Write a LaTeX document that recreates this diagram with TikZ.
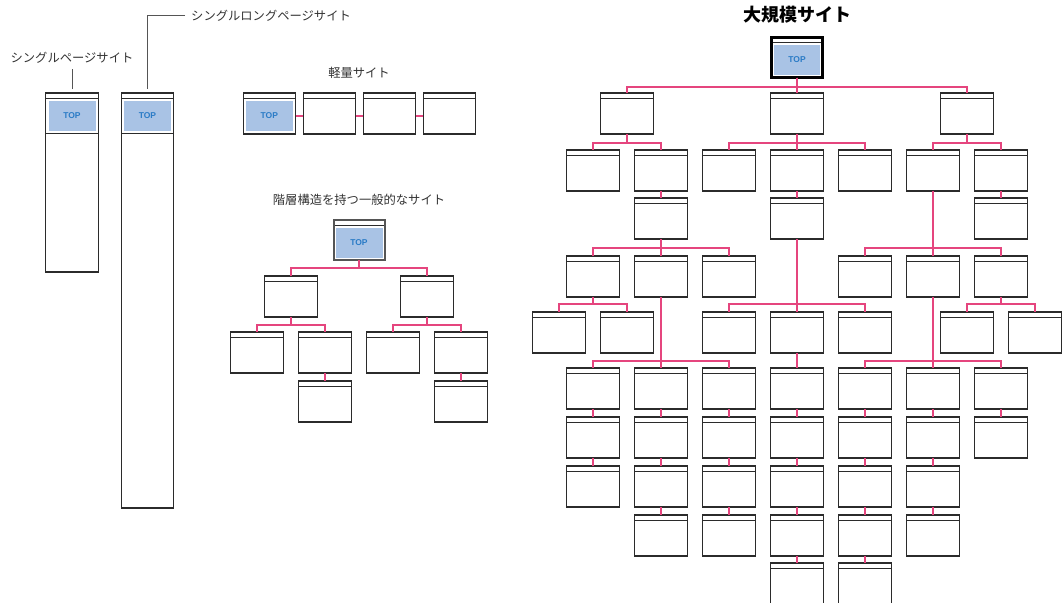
\documentclass[tikz,border=0pt]{standalone}
\usepackage{fontspec}
\setmainfont{Liberation Sans}
\newfontfamily\jpfont{Noto Sans CJK JP}
\definecolor{boxc}{HTML}{2B2B2B}
\definecolor{pinkc}{HTML}{E5457E}
\definecolor{topblue}{HTML}{A9C3E5}
\definecolor{toptext}{HTML}{2A7BC6}
\definecolor{labc}{HTML}{333333}
\definecolor{leadc}{HTML}{555555}
\newcommand\lb[3]{\node[pg] (#1) at ({797+34*(#2)},#3) {};}
\tikzset{
  pg/.style={draw=boxc, line width=1.1pt, fill=white, minimum width=52.5pt,
    minimum height=41pt, inner sep=0pt, outer sep=0pt, anchor=north,
    path picture={\draw[boxc, line width=1pt]
      ([yshift=-5pt]path picture bounding box.north west) --
      ([yshift=-5pt]path picture bounding box.north east);}},
  topfill/.style={fill=topblue, inner sep=0pt, outer sep=0pt, anchor=north,
    minimum width=47pt, minimum height=30pt, text=toptext,
    font=\bfseries\fontsize{8.5}{10}\selectfont},
  lnk/.style={draw=pinkc, line width=1.1pt},
  leader/.style={draw=leadc, line width=1pt},
  lab/.style={text=labc, inner sep=0pt, font=\jpfont\fontsize{12.3}{14}\selectfont},
}
\begin{document}
\begin{tikzpicture}[x=1pt,y=-1pt]
\useasboundingbox (0,0) rectangle (1062,602);

% ---------- single page site ----------
\node[lab] (lab1) at (72,58) {シングルページサイト};
\node[pg, minimum height=179pt] (single) at (72,93) {};
\draw[boxc, line width=1pt] ([yshift=-40.5pt]single.north west) -- ([yshift=-40.5pt]single.north east);
\node[topfill] (singleT) at ([yshift=-8pt]single.north) {TOP};
\draw[leader] ([yshift=4pt]single.north) -- ([yshift=-5pt]single.north |- lab1.south);

% ---------- single long page site ----------
\node[lab, anchor=west] (lab2) at (191,16) {シングルロングページサイト};
\node[pg, minimum height=415pt] (long) at (147.5,93) {};
\draw[boxc, line width=1pt] ([yshift=-40.5pt]long.north west) -- ([yshift=-40.5pt]long.north east);
\node[topfill] (longT) at ([yshift=-8pt]long.north) {TOP};
\draw[leader] ([xshift=-6pt]lab2.west) -| ([yshift=4pt]long.north);

% ---------- light site ----------
\node[lab] (lab3) at (359,73) {軽量サイト};
\node[pg] (l1) at (269.3,93) {};
\node[pg] (l2) at (329.3,93) {};
\node[pg] (l3) at (389.3,93) {};
\node[pg] (l4) at (449.3,93) {};
\node[topfill] (l1T) at ([yshift=-8pt]l1.north) {TOP};
\draw[lnk] (l1.east |- l1T) -- (l2.west |- l1T);
\draw[lnk] (l2.east |- l1T) -- (l3.west |- l1T);
\draw[lnk] (l3.east |- l1T) -- (l4.west |- l1T);

% ---------- hierarchical site ----------
\node[lab] (lab4) at (359,200) {階層構造を持つ一般的なサイト};
\node[pg, draw=leadc, line width=2pt, minimum width=51pt, minimum height=40pt] (h0) at (359,220) {};
\node[topfill] (h0T) at ([yshift=-8pt]h0.north) {TOP};
\node[pg] (h1) at (291,276) {};
\node[pg] (h2) at (427,276) {};
\node[pg] (h11) at (257,332) {};
\node[pg] (h12) at (325,332) {};
\node[pg] (h21) at (393,332) {};
\node[pg] (h22) at (461,332) {};
\node[pg] (h121) at (325,381) {};
\node[pg] (h221) at (461,381) {};
\foreach \c in {h1,h2} \draw[lnk] (h0.south) -- ++(0,8) -| (\c.north);
\foreach \c in {h11,h12} \draw[lnk] (h1.south) -- ++(0,8) -| (\c.north);
\foreach \c in {h21,h22} \draw[lnk] (h2.south) -- ++(0,8) -| (\c.north);
\draw[lnk] (h12.south) -- (h121.north);
\draw[lnk] (h22.south) -- (h221.north);

% ---------- large site ----------
\node[text=black, inner sep=0pt, font=\jpfont\bfseries\fontsize{18}{20}\selectfont] (lab5) at (797,15) {大規模サイト};
\node[pg, draw=black, line width=3pt, minimum width=50.5pt, minimum height=40pt] (T) at (797,37.5) {};
\node[topfill, minimum width=46.7pt] (TT) at ([yshift=-7.5pt]T.north) {TOP};

\lb{Bm5}{-5}{93} \lb{B0}{0}{93} \lb{Bp5}{5}{93}
\lb{Cm6}{-6}{150} \lb{Cm4}{-4}{150} \lb{Cm2}{-2}{150} \lb{C0}{0}{150}
\lb{Cp2}{2}{150} \lb{Cp4}{4}{150} \lb{Cp6}{6}{150}
\lb{Dm4}{-4}{198} \lb{D0}{0}{198} \lb{Dp6}{6}{198}
\lb{Em6}{-6}{256} \lb{Em4}{-4}{256} \lb{Em2}{-2}{256}
\lb{Ep2}{2}{256} \lb{Ep4}{4}{256} \lb{Ep6}{6}{256}
\lb{Fm7}{-7}{312} \lb{Fm5}{-5}{312} \lb{Fm2}{-2}{312} \lb{F0}{0}{312}
\lb{Fp2}{2}{312} \lb{Fp5}{5}{312} \lb{Fp7}{7}{312}
\lb{Gm6}{-6}{368} \lb{Gm4}{-4}{368} \lb{Gm2}{-2}{368} \lb{G0}{0}{368}
\lb{Gp2}{2}{368} \lb{Gp4}{4}{368} \lb{Gp6}{6}{368}
\lb{Hm6}{-6}{417} \lb{Hm4}{-4}{417} \lb{Hm2}{-2}{417} \lb{H0}{0}{417}
\lb{Hp2}{2}{417} \lb{Hp4}{4}{417} \lb{Hp6}{6}{417}
\lb{Im6}{-6}{466} \lb{Im4}{-4}{466} \lb{Im2}{-2}{466} \lb{I0}{0}{466}
\lb{Ip2}{2}{466} \lb{Ip4}{4}{466}
\lb{Jm4}{-4}{515} \lb{Jm2}{-2}{515} \lb{J0}{0}{515}
\lb{Jp2}{2}{515} \lb{Jp4}{4}{515}
\lb{K0}{0}{563} \lb{Kp2}{2}{563}

% branching connectors: parent / drop to bus / child
\foreach \p/\h/\c in {T/9.5/Bm5, T/9.5/B0, T/9.5/Bp5,
  Bm5/9/Cm6, Bm5/9/Cm4, B0/9/Cm2, B0/9/C0, B0/9/Cp2, Bp5/9/Cp4, Bp5/9/Cp6,
  Dm4/9/Em6, Dm4/9/Em4, Dm4/9/Em2, Cp4/57/Ep2, Cp4/57/Ep4, Cp4/57/Ep6,
  Em6/7/Fm7, Em6/7/Fm5, D0/65/Fm2, D0/65/F0, D0/65/Fp2, Ep6/7/Fp5, Ep6/7/Fp7,
  Em4/64/Gm6, Em4/64/Gm4, Em4/64/Gm2, Ep4/64/Gp2, Ep4/64/Gp4, Ep4/64/Gp6}
  \draw[lnk] (\p.south) -- ++(0,\h) -| (\c.north);

% direct vertical connectors
\foreach \a/\b in {Cm4/Dm4, C0/D0, Cp6/Dp6, F0/G0,
  Gm6/Hm6, Gm4/Hm4, Gm2/Hm2, G0/H0, Gp2/Hp2, Gp4/Hp4, Gp6/Hp6,
  Hm6/Im6, Hm4/Im4, Hm2/Im2, H0/I0, Hp2/Ip2, Hp4/Ip4,
  Im4/Jm4, Im2/Jm2, I0/J0, Ip2/Jp2, Ip4/Jp4,
  J0/K0, Jp2/Kp2}
  \draw[lnk] (\a.south) -- (\b.north);
\end{tikzpicture}
\end{document}
